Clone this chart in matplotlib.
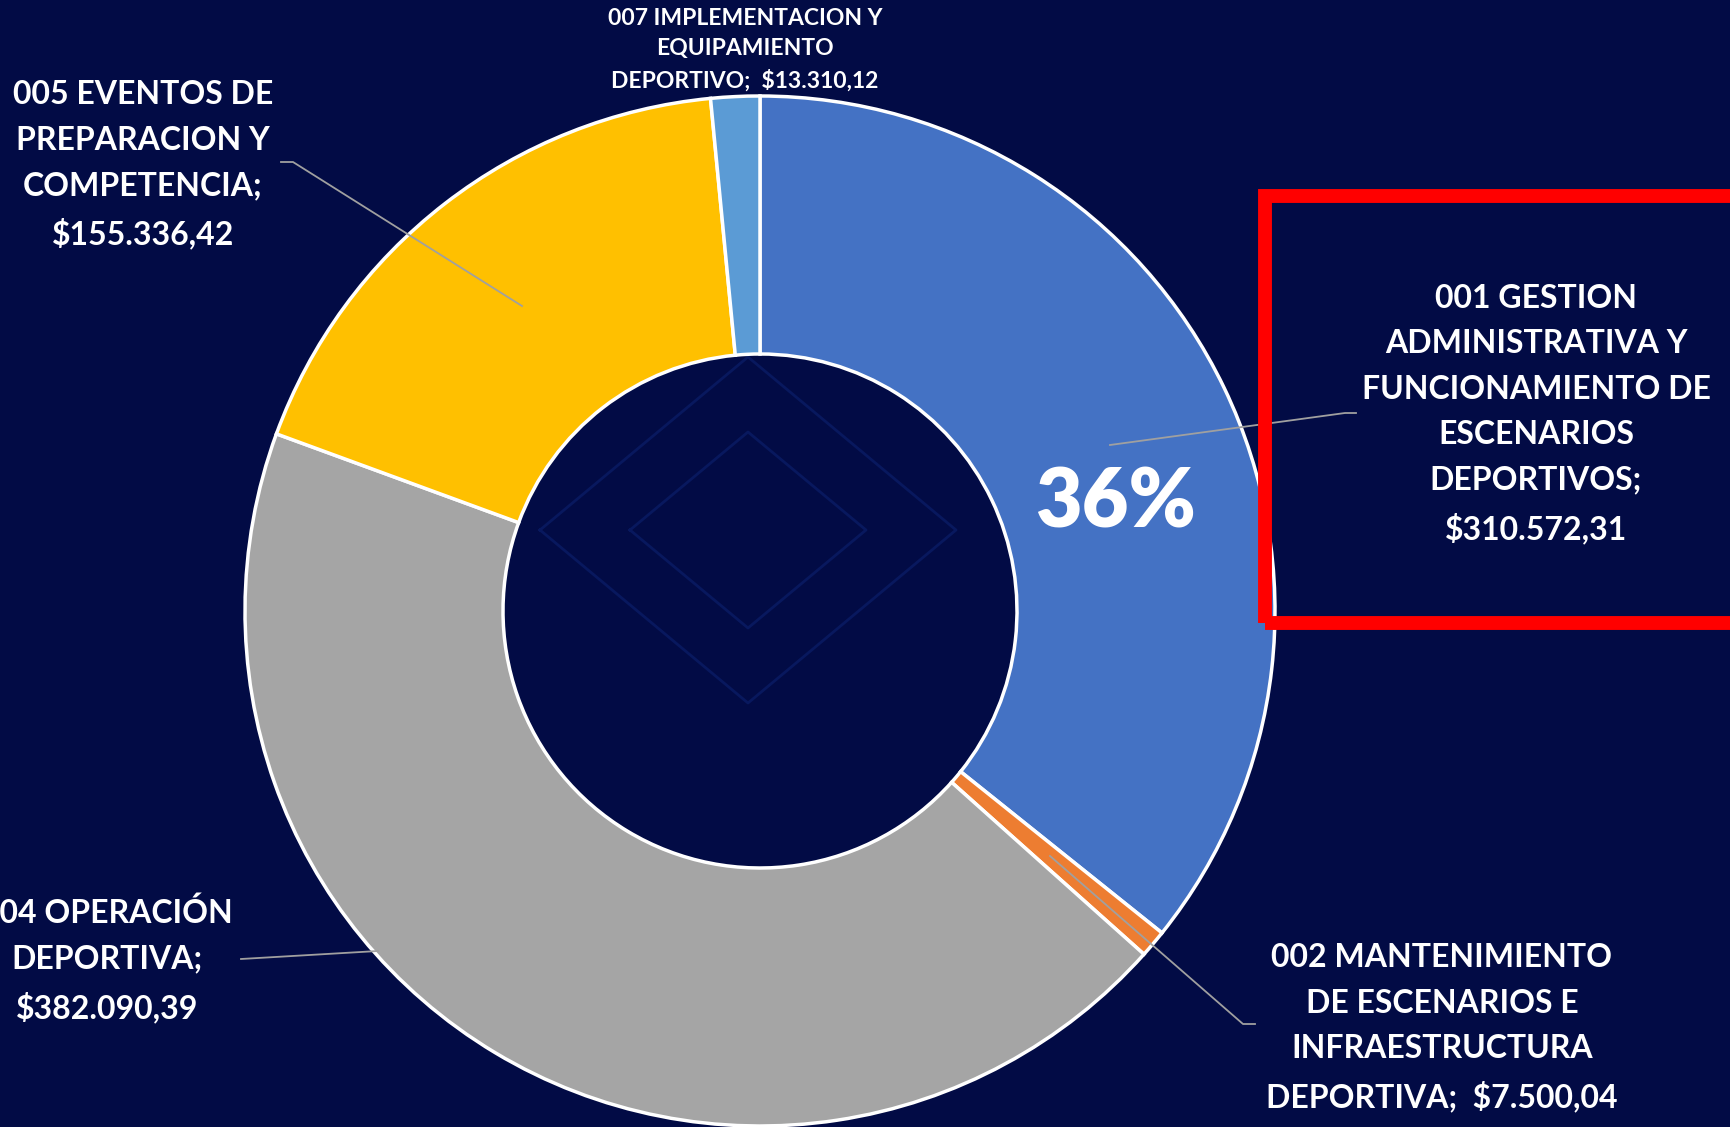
import numpy as np
import matplotlib.pyplot as plt

# data
labels = ["001 GESTION\nADMINISTRATIVA Y\nFUNCIONAMIENTO DE\nESCENARIOS\nDEPORTIVOS;\n$310.572,31",
          "002 MANTENIMIENTO\nDE ESCENARIOS E\nINFRAESTRUCTURA\nDEPORTIVA;  $7.500,04",
          "004 OPERACIÓN\nDEPORTIVA;\n$382.090,39",
          "005 EVENTOS DE\nPREPARACION Y\nCOMPETENCIA;\n$155.336,42",
          "007 IMPLEMENTACION Y\nEQUIPAMIENTO\nDEPORTIVO;  $13.310,12"]
values = [310572.31, 7500.04, 382090.39, 155336.42, 13310.12]
colors = ["#4472C4", "#ED7D31", "#A5A5A5", "#FFC000", "#5B9BD5"]
pct_label = "36%"

W, H = 1731, 1127
bg = "#020b45"
font = "Lato"

fig = plt.figure(figsize=(W / 100, H / 100), dpi=100, facecolor=bg)
ax = fig.add_axes([0, 0, 1, 1])
ax.set_facecolor(bg)


def py(y):
    # pixel row (top origin) -> data y
    return H - y


# faint diamonds in the background
cx, cy = 748, 530
for hw, hh in ((208, 173), (118, 98)):
    ax.plot([cx - hw, cx, cx + hw, cx, cx - hw],
            [py(cy), py(cy - hh), py(cy), py(cy + hh), py(cy)],
            color="#08185e", lw=2, zorder=0)

ax.pie(values, colors=colors, startangle=90, counterclock=False,
       radius=515, center=(760, py(611)),
       wedgeprops=dict(width=258, edgecolor="white", linewidth=2.5))

ax.set_xlim(0, W)
ax.set_ylim(0, H)
ax.set_aspect("equal")
ax.axis("off")

txt = dict(color="white", fontfamily=font, fontweight="bold",
           ha="center", va="center", linespacing=1.68)
lead = dict(color="#a0a0a0", lw=1.3)

# 001 label with red frame
ax.add_patch(plt.Rectangle((1265, py(623)), 520, 427, fill=False,
                           edgecolor="#ff0000", lw=10, zorder=5))
ax.text(1536, py(414), labels[0], fontsize=23, **txt)
ax.plot([1110, 1345, 1356], [py(445), py(413), py(413)], **lead)
ax.text(1115, py(504), pct_label, color="white", fontfamily=font,
        fontweight="heavy", fontsize=58, ha="center", va="center", zorder=6)

# 002 label
ax.text(1442, py(1028), labels[1], fontsize=23, **txt)
ax.plot([1050, 1243, 1255], [py(856), py(1024), py(1024)], **lead)

# 004 label
ax.text(107, py(960), labels[2], fontsize=23, **txt)
ax.plot([241, 378], [py(959), py(951)], **lead)

# 005 label
ax.text(143, py(165), labels[3], fontsize=23, **txt)
ax.plot([281, 293, 522], [py(162), py(162), py(306)], **lead)

# 007 label
ax.text(745, py(50), labels[4], fontsize=16.5, color="white", fontfamily=font,
        fontweight="bold", ha="center", va="center", linespacing=1.55)

fig.savefig("out.png", dpi=100, facecolor=bg)
